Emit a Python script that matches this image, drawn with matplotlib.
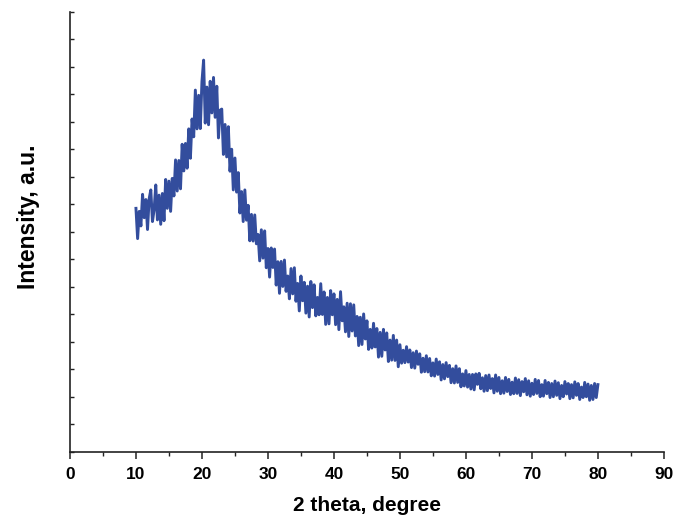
import numpy as np
import matplotlib
matplotlib.use("Agg")
import matplotlib.pyplot as plt
from matplotlib.ticker import MultipleLocator

plt.rcParams['font.family'] = ['Liberation Sans', 'DejaVu Sans']

# XRD scan, 10-80 deg in 0.25 deg steps
two_theta = np.arange(10.0, 80.01, 0.25)
intensity = [
    886, 776, 875, 822, 937, 852, 918, 809,
    921, 953, 838, 881, 971, 844, 934, 828,
    940, 841, 991, 886, 985, 875, 995, 931,
    1062, 949, 1060, 957, 1119, 1022, 1122, 1032,
    1175, 1068, 1211, 1146, 1316, 1175, 1297, 1176,
    1347, 1425, 1196, 1327, 1190, 1348, 1233, 1362,
    1217, 1330, 1142, 1243, 1247, 1082, 1191, 1073,
    1183, 1021, 1101, 953, 1069, 945, 1016, 869,
    947, 838, 953, 843, 897, 768, 864, 767,
    862, 757, 791, 695, 808, 705, 804, 670,
    740, 636, 742, 671, 738, 607, 692, 577,
    693, 602, 698, 584, 640, 557, 667, 575,
    670, 548, 613, 513, 640, 550, 617, 505,
    603, 491, 620, 525, 608, 495, 562, 499,
    612, 500, 582, 464, 562, 466, 587, 499,
    575, 463, 555, 445, 583, 477, 528, 437,
    541, 420, 539, 440, 535, 422, 493, 387,
    490, 391, 502, 411, 477, 373, 446, 378,
    468, 382, 449, 345, 435, 348, 446, 371,
    433, 329, 407, 334, 424, 333, 407, 310,
    390, 323, 370, 325, 383, 327, 371, 307,
    361, 305, 367, 319, 357, 290, 341, 292,
    350, 291, 340, 277, 324, 276, 338, 282,
    328, 262, 318, 266, 325, 274, 315, 252,
    303, 251, 313, 253, 303, 237, 284, 240,
    296, 236, 282, 229, 282, 226, 284, 246,
    286, 230, 270, 221, 278, 223, 280, 231,
    267, 215, 280, 221, 271, 212, 259, 214,
    271, 220, 264, 209, 254, 212, 269, 213,
    263, 205, 256, 219, 267, 208, 259, 203,
    250, 209, 264, 213, 260, 201, 245, 203,
    260, 212, 253, 198, 249, 201, 258, 206,
    252, 194, 242, 201, 256, 211, 249, 194,
    245, 197, 255, 206, 249, 191, 236, 198,
    253, 201, 247, 188, 242, 191, 249, 198,
    245,
]

x_ticks = [0, 10, 20, 30, 40, 50, 60, 70, 80, 90]

fig = plt.figure(figsize=(6.78, 5.19), dpi=100)
ax = fig.add_axes([0.1032, 0.1291, 0.876, 0.8478])

ax.plot(two_theta, intensity, color='#334d9d', linewidth=2.1)

ax.set_xlim(0, 90)
ax.set_ylim(0, 1600)
ax.set_xticks(x_ticks)
ax.xaxis.set_minor_locator(MultipleLocator(5))
ax.yaxis.set_major_locator(MultipleLocator(100))
ax.set_yticklabels([])

for side in ['top', 'right']:
    ax.spines[side].set_visible(False)
for side in ['left', 'bottom']:
    ax.spines[side].set_linewidth(1.2)
    ax.spines[side].set_color('#222222')

ax.tick_params(axis='x', which='major', direction='out', length=5, width=1.1,
               pad=6, labelsize=12.5, colors='#222222')
ax.tick_params(axis='x', which='minor', direction='out', length=3, width=1.0,
               colors='#222222')
ax.tick_params(axis='y', which='major', direction='in', length=3, width=1.0,
               colors='#222222')
for lbl in ax.get_xticklabels():
    lbl.set_fontweight('bold')
    lbl.set_color('black')

ax.set_xlabel('2 theta, degree', fontsize=15, fontweight='bold')
ax.set_ylabel('Intensity, a.u.', fontsize=16.5, fontweight='bold')
ax.xaxis.set_label_coords(0.5, -0.1)
ax.yaxis.set_label_coords(-0.05, 0.534)

fig.savefig('out.png', dpi=100, facecolor='white')
